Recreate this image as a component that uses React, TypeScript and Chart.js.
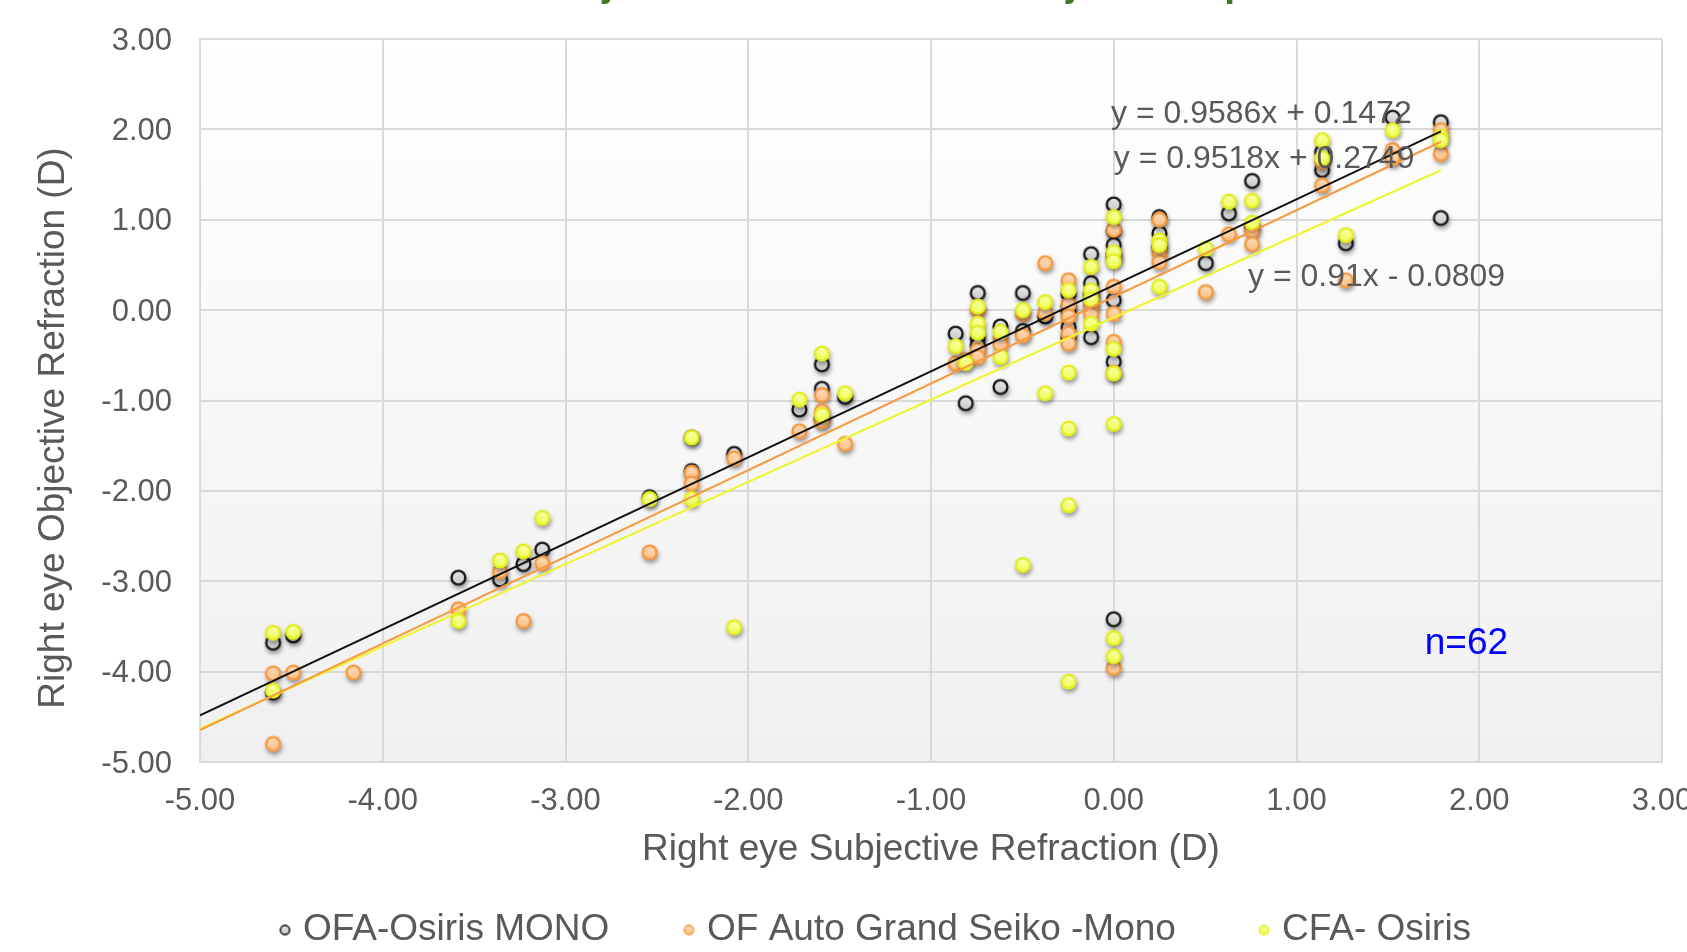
import React, { useEffect, useRef } from 'react';
import { Chart, registerables } from 'chart.js';

Chart.register(...registerables);

const FONT = '"Liberation Sans", Arial, Helvetica, sans-serif';
const TEXT_GRAY = '#595959';

// ---------- DATA ----------
const seriesNames = ['OFA-Osiris MONO', 'OF Auto Grand Seiko -Mono', 'CFA- Osiris'];

const axisTicks = [-5, -4, -3, -2, -1, 0, 1, 2, 3];

// OFA-Osiris MONO
const osirisMonoX = [-4.6, -4.6, -4.49, -3.586, -3.358, -3.23, -3.127, -2.54, -2.31, -2.31, -2.077, -1.72, -1.597, -1.597, -1.597, -1.47, -0.865, -0.81, -0.744, -0.744, -0.744, -0.62, -0.62, -0.497, -0.497, -0.375, -0.247, -0.247, -0.247, -0.247, -0.247, -0.124, -0.124, -0.124, -0.124, 0, 0, 0, 0, 0, 0, 0, 0.25, 0.25, 0.25, 0.504, 0.63, 0.757, 0.757, 1.14, 1.14, 1.27, 1.526, 1.526, 1.79, 1.79];
const osirisMonoY = [-3.68, -4.23, -3.6, -2.96, -2.98, -2.81, -2.65, -2.07, -1.41, -1.78, -1.59, -1.1, -0.6, -0.87, -1.2, -0.96, -0.26, -1.03, 0.19, -0.31, -0.39, -0.18, -0.85, 0.19, -0.23, -0.07, 0.18, 0.05, -0.02, -0.19, -0.3, 0.62, 0.3, 0.18, -0.3, 1.17, 0.88, 0.72, 0.62, 0.11, -0.57, -3.42, 1.03, 0.85, 0.7, 0.52, 1.07, 1.43, 0.92, 1.75, 1.55, 0.74, 2.13, 1.72, 2.08, 1.02];

// OF Auto Grand Seiko -Mono
const seikoMonoX = [-4.6, -4.6, -4.49, -4.16, -3.586, -3.358, -3.23, -3.127, -2.54, -2.31, -2.31, -2.077, -1.72, -1.597, -1.597, -1.597, -1.47, -0.865, -0.81, -0.744, -0.744, -0.744, -0.62, -0.62, -0.497, -0.497, -0.375, -0.375, -0.247, -0.247, -0.247, -0.247, -0.247, -0.124, -0.124, -0.124, -0.124, 0, 0, 0, 0, 0, 0, 0, 0.25, 0.25, 0.25, 0.504, 0.63, 0.757, 0.757, 1.14, 1.14, 1.27, 1.526, 1.526, 1.79, 1.79];
const seikoMonoY = [-4.02, -4.8, -4.01, -4.01, -3.31, -2.89, -3.44, -2.8, -2.68, -1.8, -1.92, -1.64, -1.34, -0.94, -1.12, -1.23, -1.48, -0.59, -0.55, 0.0, -0.44, -0.52, -0.31, -0.38, -0.04, -0.28, 0.52, -0.03, 0.33, 0.06, -0.07, -0.26, -0.37, 0.18, 0.08, 0.04, -0.05, 0.89, 0.58, 0.26, -0.04, -0.35, -0.69, -3.96, 1.0, 0.64, 0.53, 0.2, 0.84, 0.88, 0.73, 1.64, 1.38, 0.33, 1.77, 1.68, 1.99, 1.73];

// CFA- Osiris
const cfaOsirisX = [-4.6, -4.6, -4.49, -3.586, -3.358, -3.23, -3.127, -2.54, -2.31, -2.31, -2.077, -1.72, -1.597, -1.597, -1.47, -0.865, -0.81, -0.744, -0.744, -0.744, -0.62, -0.62, -0.497, -0.497, -0.375, -0.375, -0.247, -0.247, -0.247, -0.247, -0.247, -0.124, -0.124, -0.124, -0.124, 0, 0, 0, 0, 0, 0, 0, 0, 0.25, 0.25, 0.25, 0.504, 0.63, 0.757, 0.757, 1.14, 1.14, 1.27, 1.526, 1.79, 1.79];
const cfaOsirisY = [-3.57, -4.21, -3.56, -3.44, -2.77, -2.67, -2.3, -2.09, -1.41, -2.09, -3.51, -0.99, -0.48, -1.16, -0.92, -0.4, -0.585, 0.04, -0.15, -0.25, -0.24, -0.52, 0.0, -2.82, 0.09, -0.92, 0.22, -0.69, -1.31, -2.16, -4.11, 0.48, 0.22, 0.12, -0.15, 1.03, 0.64, 0.54, -0.43, -0.7, -1.26, -3.63, -3.83, 0.77, 0.72, 0.26, 0.68, 1.2, 1.21, 0.97, 1.88, 1.68, 0.83, 1.99, 1.92, 1.88];

// Linear trendlines (slope, intercept) for OFA-Osiris MONO, OF Auto Grand Seiko -Mono, CFA- Osiris
const trendSlopes = [0.9518, 0.9586, 0.91];
const trendIntercepts = [0.2749, 0.1472, -0.0809];
const trendXRange = [-5, 1.79];
const equationTexts = ['y = 0.9586x + 0.1472', 'y = 0.9518x + 0.2749', 'y = 0.91x - 0.0809'];
const sampleLabel = 'n=62';
const chartTitle = 'Objective Refraction vs Subjective Sphere';
const xAxisTitle = 'Right eye Subjective Refraction (D)';
const yAxisTitle = 'Right eye Objective Refraction (D)';

// ---------- STYLES ----------
const markerFillTop = ['#e8e8e8', '#fedcba', '#f9ffb0'];
const markerFillBottom = ['#c8c8c8', '#fcc088', '#eeff50'];
const markerBorder = ['#1a1a1a', '#f79a40', '#e3ef1e'];
const lineColors = ['#111111', '#f79a40', '#eef52a'];

function makeMarker(top: string, bottom: string, stroke: string, r: number, bw: number) {
  const size = Math.ceil((r + bw) * 2 + 4);
  const c = document.createElement('canvas');
  c.width = size;
  c.height = size;
  const g = c.getContext('2d') as CanvasRenderingContext2D;
  const cx = size / 2;
  const grad = g.createLinearGradient(0, cx - r, 0, cx + r);
  grad.addColorStop(0, top);
  grad.addColorStop(1, bottom);
  g.beginPath();
  g.arc(cx, cx, r, 0, Math.PI * 2);
  g.fillStyle = grad;
  g.fill();
  g.lineWidth = bw;
  g.strokeStyle = stroke;
  g.stroke();
  return c;
}

export default function App() {
  const ref = useRef<HTMLCanvasElement>(null);

  useEffect(() => {
    document.body.style.margin = '0';
    const canvas = ref.current;
    if (!canvas) return;

    const toPts = (xs: number[], ys: number[]) => xs.map((x, i) => ({ x, y: ys[i] }));
    const seriesPts = [toPts(osirisMonoX, osirisMonoY), toPts(seikoMonoX, seikoMonoY), toPts(cfaOsirisX, cfaOsirisY)];
    const sprites = seriesPts.map((_, i) => makeMarker(markerFillTop[i], markerFillBottom[i], markerBorder[i], 6.9, 2.4));
    const legendSprites = seriesPts.map((_, i) => makeMarker(markerFillTop[i], markerFillBottom[i], markerBorder[i], 4.6, 1.6));

    const scatterSets = seriesPts.map((pts, i) => ({
      type: 'scatter' as const,
      label: seriesNames[i],
      data: pts,
      isSeries: true,
      showLine: false,
      pointStyle: sprites[i],
      pointRadius: 7,
      pointHoverRadius: 7,
      backgroundColor: markerFillBottom[i],
      borderColor: markerBorder[i],
      order: 3 - i,
    }));

    const trendSets = trendSlopes.map((m, i) => ({
      type: 'line' as const,
      label: 'trend ' + seriesNames[i],
      data: trendXRange.map((x) => ({ x, y: m * x + trendIntercepts[i] })),
      borderColor: lineColors[i],
      borderWidth: 2,
      pointRadius: 0,
      fill: false,
      tension: 0,
      order: 0,
    }));

    const customPlugin = {
      id: 'customDecor',
      beforeDraw(chart: any) {
        const { ctx, chartArea: a } = chart;
        ctx.save();
        ctx.fillStyle = '#ffffff';
        ctx.fillRect(0, 0, chart.width, chart.height);
        const g = ctx.createLinearGradient(0, a.top, 0, a.bottom);
        g.addColorStop(0, '#ffffff');
        g.addColorStop(1, '#f0f0f0');
        ctx.fillStyle = g;
        ctx.fillRect(a.left, a.top, a.right - a.left, a.bottom - a.top);
        ctx.restore();
      },
      beforeDatasetDraw(chart: any, args: any) {
        const ds = chart.data.datasets[args.index];
        if (ds && ds.isSeries) {
          const ctx = chart.ctx;
          ctx.save();
          ctx.shadowColor = 'rgba(0,0,0,0.38)';
          ctx.shadowBlur = 4;
          ctx.shadowOffsetX = 1;
          ctx.shadowOffsetY = 3;
        }
      },
      afterDatasetDraw(chart: any, args: any) {
        const ds = chart.data.datasets[args.index];
        if (ds && ds.isSeries) chart.ctx.restore();
      },
      afterDraw(chart: any) {
        const { ctx, scales } = chart;
        const xs = scales.x;
        const ys = scales.y;
        ctx.save();

        // Title (mostly cropped off at top)
        ctx.fillStyle = '#3b7a24';
        ctx.font = `bold 39px ${FONT}`;
        ctx.textAlign = 'left';
        ctx.textBaseline = 'alphabetic';
        ctx.fillText(chartTitle, 548, -4);

        // Y axis title
        ctx.save();
        ctx.translate(54, 428);
        ctx.rotate(-Math.PI / 2);
        ctx.fillStyle = TEXT_GRAY;
        ctx.font = `37px ${FONT}`;
        ctx.textAlign = 'center';
        ctx.textBaseline = 'middle';
        ctx.fillText(yAxisTitle, 0, 0);
        ctx.restore();

        // Equations
        ctx.fillStyle = TEXT_GRAY;
        ctx.font = `32px ${FONT}`;
        ctx.textAlign = 'left';
        ctx.textBaseline = 'middle';
        ctx.fillText(equationTexts[0], xs.getPixelForValue(-0.015), ys.getPixelForValue(2.17));
        ctx.fillText(equationTexts[1], xs.getPixelForValue(0.0), ys.getPixelForValue(1.67));
        ctx.fillText(equationTexts[2], xs.getPixelForValue(0.735), ys.getPixelForValue(0.36));

        // n label
        ctx.fillStyle = '#0000ff';
        ctx.font = `37px ${FONT}`;
        ctx.textAlign = 'center';
        ctx.fillText(sampleLabel, xs.getPixelForValue(1.93), ys.getPixelForValue(-3.69));

        // Legend
        const legendX = [285, 689, 1264];
        const legendY = 930;
        ctx.font = `37px ${FONT}`;
        ctx.textAlign = 'left';
        ctx.textBaseline = 'middle';
        seriesNames.forEach((name, i) => {
          const sp = legendSprites[i];
          ctx.drawImage(sp, legendX[i] - sp.width / 2, legendY - sp.height / 2);
          ctx.fillStyle = TEXT_GRAY;
          ctx.fillText(name, legendX[i] + 18, legendY);
        });
        ctx.restore();
      },
    };

    const tickFmt = (v: any) => Number(v).toFixed(2);

    const chart = new Chart(canvas, {
      type: 'scatter',
      data: { datasets: [...trendSets, ...scatterSets] as any },
      options: {
        responsive: false,
        devicePixelRatio: 1,
        animation: false,
        layout: { padding: { left: 0, right: 25, top: 39, bottom: 0 } },
        plugins: {
          legend: { display: false },
          tooltip: { enabled: false },
        },
        scales: {
          x: {
            type: 'linear',
            min: -5,
            max: 3,
            afterBuildTicks: (s: any) => {
              s.ticks = axisTicks.map((v) => ({ value: v }));
            },
            afterFit: (s: any) => {
              s.height = 190;
              s.paddingLeft = 0;
              s.paddingRight = 0;
            },
            ticks: {
              callback: tickFmt,
              color: TEXT_GRAY,
              font: { size: 31, family: FONT },
              padding: 21,
              maxRotation: 0,
              autoSkip: false,
            },
            grid: { color: '#d9d9d9', lineWidth: 2, drawTicks: false },
            border: { display: true, color: '#d9d9d9', width: 2 },
            title: {
              display: true,
              text: xAxisTitle,
              color: TEXT_GRAY,
              font: { size: 37, family: FONT },
              padding: { top: 0, bottom: 80 },
            },
          },
          y: {
            type: 'linear',
            min: -5,
            max: 3,
            afterBuildTicks: (s: any) => {
              s.ticks = axisTicks.map((v) => ({ value: v }));
            },
            afterFit: (s: any) => {
              s.width = 200;
              s.paddingTop = 0;
              s.paddingBottom = 0;
            },
            ticks: {
              callback: tickFmt,
              color: TEXT_GRAY,
              font: { size: 31, family: FONT },
              padding: 28,
              labelOffset: 2,
              autoSkip: false,
            },
            grid: { color: '#d9d9d9', lineWidth: 2, drawTicks: false },
            border: { display: true, color: '#d9d9d9', width: 2 },
          },
        },
      } as any,
      plugins: [customPlugin],
    });

    return () => chart.destroy();
  }, []);

  return (
    <div style={{ position: 'fixed', left: 0, top: 0, width: 1687, height: 952, background: '#ffffff', overflow: 'hidden' }}>
      <canvas ref={ref} width={1687} height={952} style={{ display: 'block', width: 1687, height: 952 }} />
    </div>
  );
}
